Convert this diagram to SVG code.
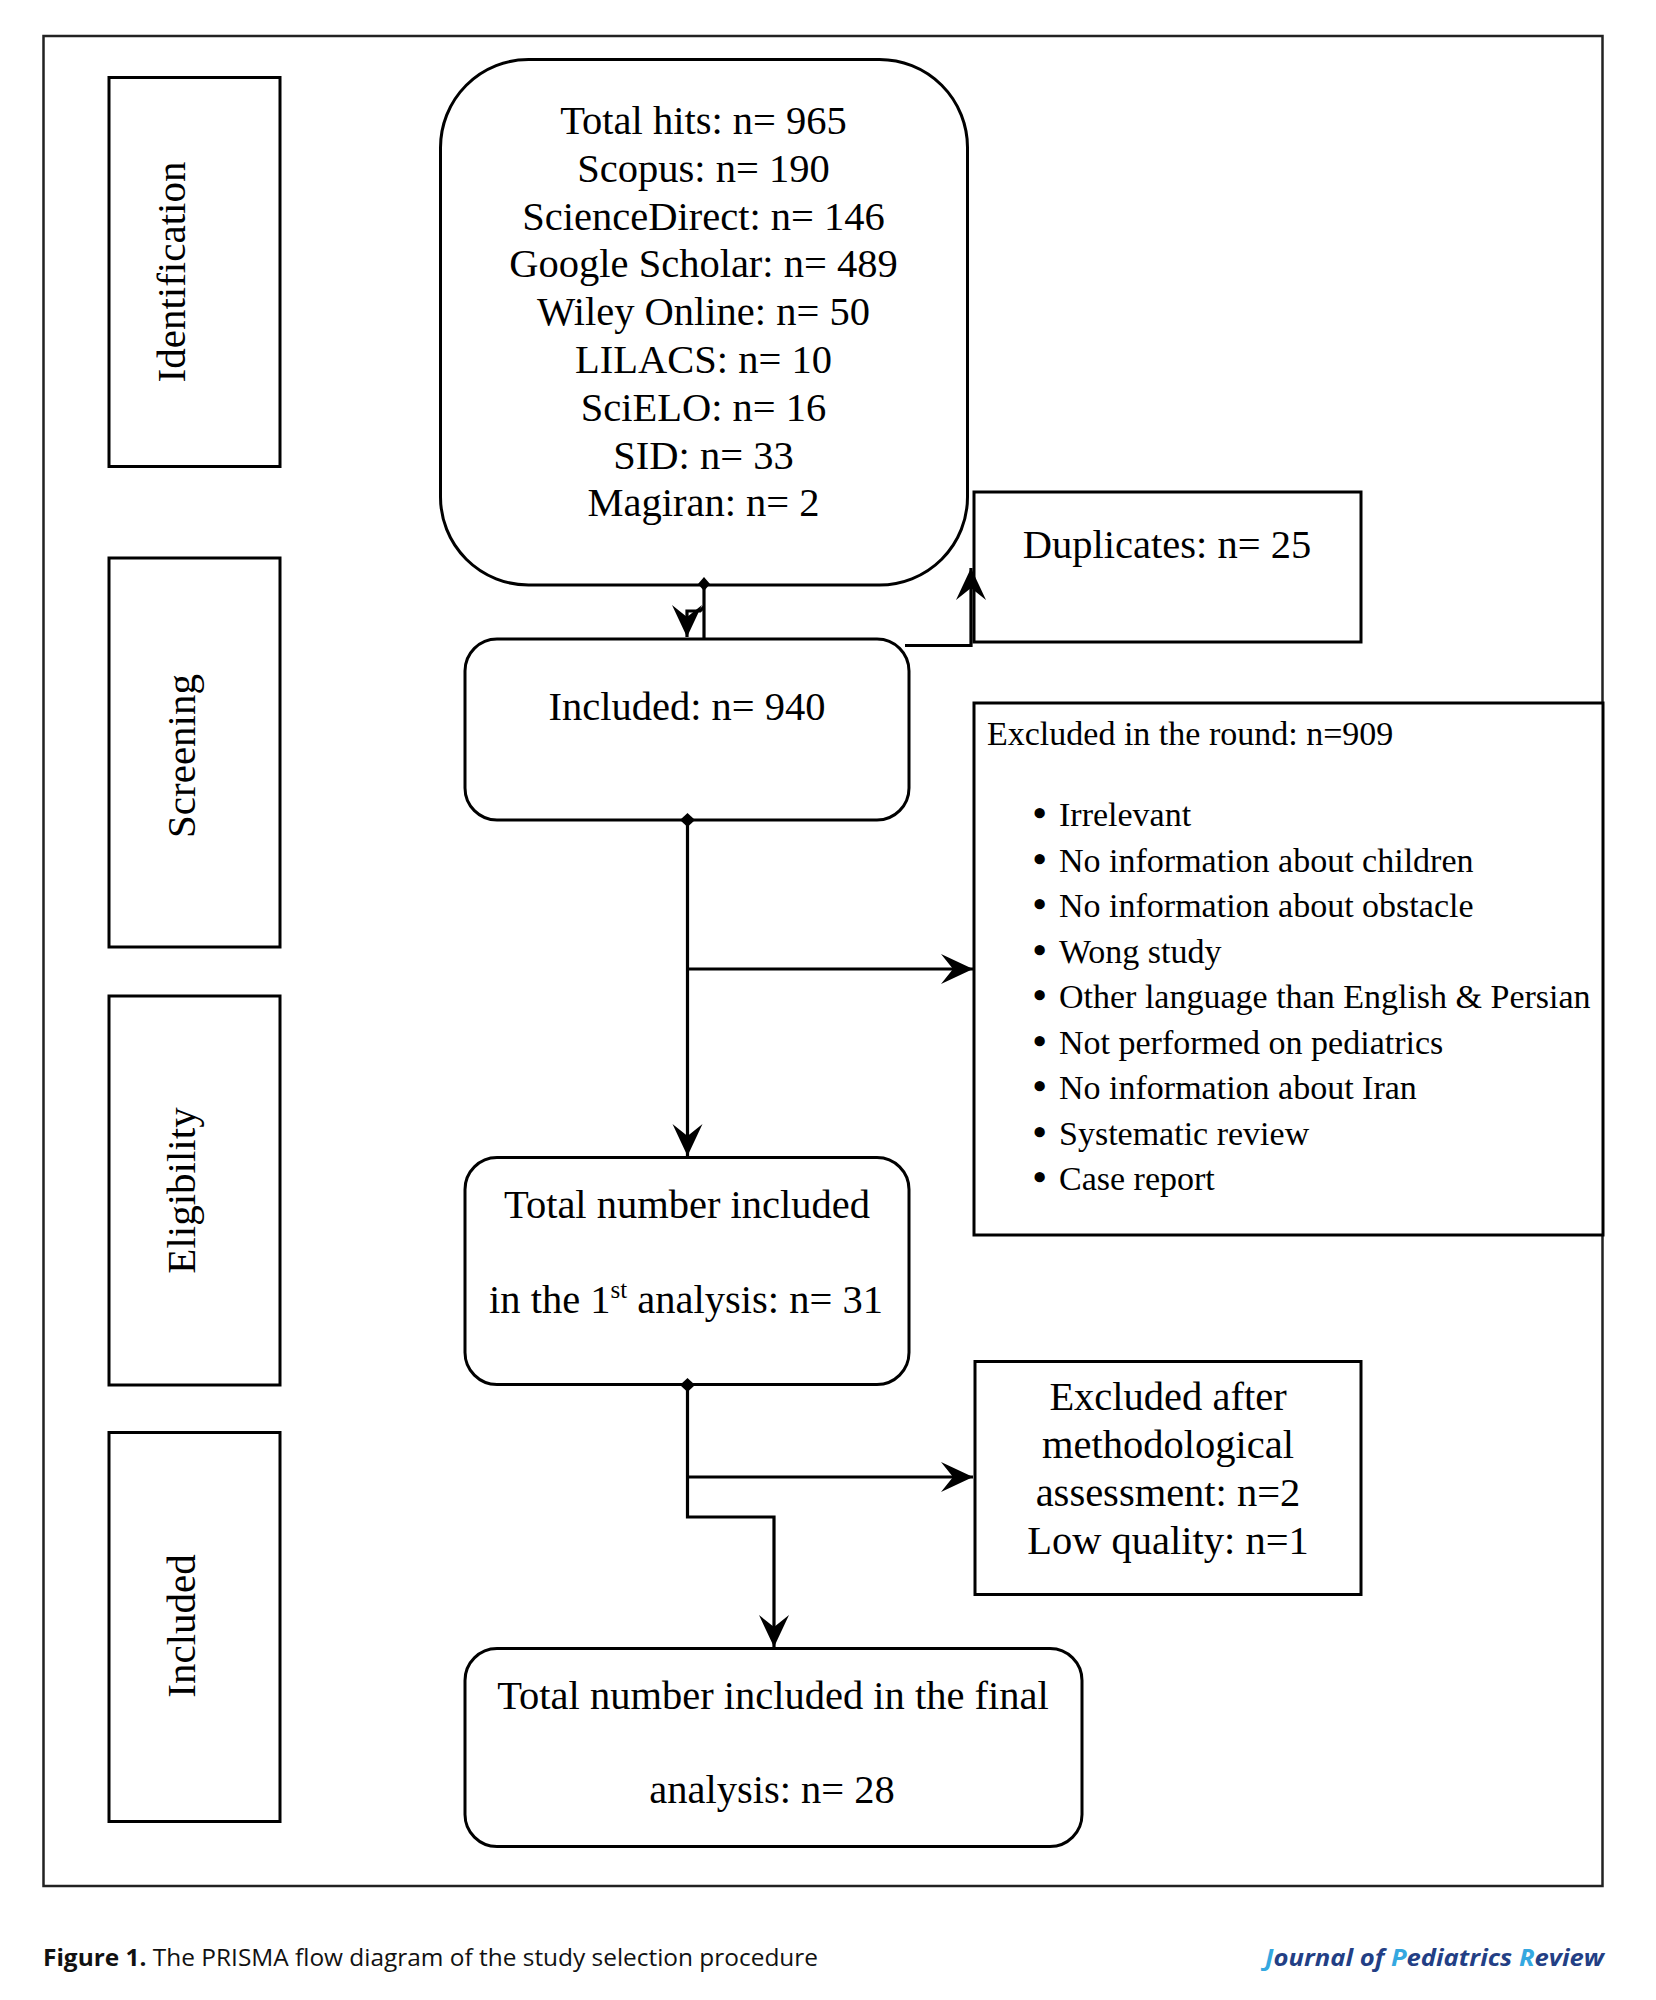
<svg xmlns="http://www.w3.org/2000/svg" width="1656" height="2000" viewBox="0 0 1656 2000">
<style>
.box{fill:#fff;stroke:#000;stroke-width:3}
.frame{fill:none;stroke:#222;stroke-width:2.5}
.t{font-family:"Liberation Serif","Times New Roman",serif;font-size:40.5px;fill:#000}
.side{font-family:"Liberation Serif","Times New Roman",serif;font-size:41px;fill:#000;text-anchor:middle}
.s{font-family:"Liberation Serif","Times New Roman",serif;font-size:34px;fill:#000}
.bu{font-size:38px;font-weight:bold}
.c{text-anchor:middle}
.ln{fill:none;stroke:#000;stroke-width:3.2}
.cap{font-family:"Open Sans","Noto Sans",sans-serif;font-size:24px;fill:#111}
.jr{font-family:"Open Sans","Noto Sans",sans-serif;font-size:24px;font-weight:bold;font-style:italic;fill:#233f85}
</style>
<defs>
<marker id="ah" markerUnits="userSpaceOnUse" viewBox="-34 -18 36 36" refX="0" refY="0" markerWidth="36" markerHeight="36" orient="auto">
<path d="M0,0 L-32,-15 L-20,0 L-32,15 Z" fill="#000"/>
</marker>
</defs>
<rect width="1656" height="2000" fill="#fff"/>
<rect class="frame" x="43.5" y="36" width="1559" height="1850"/>

<g id="stage-identification">
<rect class="box" x="109" y="77.5" width="171" height="389"/>
<text class="side" transform="translate(185,272) rotate(-90)">Identification</text>
</g>
<g id="stage-screening">
<rect class="box" x="109" y="558" width="171" height="389"/>
<text class="side" transform="translate(195,756) rotate(-90)">Screening</text>
</g>
<g id="stage-eligibility">
<rect class="box" x="109" y="996" width="171" height="389"/>
<text class="side" transform="translate(195,1190.5) rotate(-90)">Eligibility</text>
</g>
<g id="stage-included">
<rect class="box" x="109" y="1432.5" width="171" height="389"/>
<text class="side" transform="translate(195,1626) rotate(-90)">Included</text>
</g>

<g id="node-total-hits">
<rect class="box" x="440.5" y="59.5" width="527" height="525.5" rx="88" ry="88"/>
<text class="t c" x="703.5" y="134">Total hits: n= 965</text>
<text class="t c" x="703.5" y="181.8">Scopus: n= 190</text>
<text class="t c" x="703.5" y="229.6">ScienceDirect: n= 146</text>
<text class="t c" x="703.5" y="277.4">Google Scholar: n= 489</text>
<text class="t c" x="703.5" y="325.2">Wiley Online: n= 50</text>
<text class="t c" x="703.5" y="373">LILACS: n= 10</text>
<text class="t c" x="703.5" y="420.8">SciELO: n= 16</text>
<text class="t c" x="703.5" y="468.6">SID: n= 33</text>
<text class="t c" x="703.5" y="516.4">Magiran: n= 2</text>
</g>

<g id="node-duplicates">
<rect class="box" x="974" y="492" width="387" height="150"/>
<text class="t c" x="1167" y="558">Duplicates: n= 25</text>
</g>

<g id="node-included-940">
<rect class="box" x="465" y="639" width="444" height="181" rx="32" ry="32"/>
<text class="t c" x="687" y="720">Included: n= 940</text>
</g>

<g id="node-excluded-round">
<rect class="box" x="974" y="703" width="629" height="532"/>
<text class="s" x="987" y="745">Excluded in the round: n=909</text>
<g class="s">
<text x="1033" y="826"><tspan class="bu">•</tspan><tspan x="1059">Irrelevant</tspan></text>
<text x="1033" y="871.5"><tspan class="bu">•</tspan><tspan x="1059">No information about children</tspan></text>
<text x="1033" y="917"><tspan class="bu">•</tspan><tspan x="1059">No information about obstacle</tspan></text>
<text x="1033" y="962.5"><tspan class="bu">•</tspan><tspan x="1059">Wong study</tspan></text>
<text x="1033" y="1008"><tspan class="bu">•</tspan><tspan x="1059">Other language than English &amp; Persian</tspan></text>
<text x="1033" y="1053.5"><tspan class="bu">•</tspan><tspan x="1059">Not performed on pediatrics</tspan></text>
<text x="1033" y="1099"><tspan class="bu">•</tspan><tspan x="1059">No information about Iran</tspan></text>
<text x="1033" y="1144.5"><tspan class="bu">•</tspan><tspan x="1059">Systematic review</tspan></text>
<text x="1033" y="1190"><tspan class="bu">•</tspan><tspan x="1059">Case report</tspan></text>
</g>
</g>

<g id="node-first-analysis">
<rect class="box" x="465" y="1157.5" width="444" height="227" rx="32" ry="32"/>
<text class="t c" x="687" y="1218">Total number included</text>
<text class="t c" x="686" y="1313">in the 1<tspan font-size="25" dy="-15">st</tspan><tspan dy="15"> analysis: n= 31</tspan></text>
</g>

<g id="node-excluded-after">
<rect class="box" x="975" y="1361.5" width="386" height="233"/>
<text class="t c" x="1168" y="1410">Excluded after</text>
<text class="t c" x="1168" y="1458">methodological</text>
<text class="t c" x="1168" y="1506">assessment: n=2</text>
<text class="t c" x="1168" y="1554">Low quality: n=1</text>
</g>

<g id="node-final">
<rect class="box" x="465" y="1648.5" width="617" height="198" rx="32" ry="32"/>
<text class="t c" x="773" y="1708.5">Total number included in the final</text>
<text class="t c" x="772" y="1803">analysis: n= 28</text>
</g>

<g id="connectors">
<path class="ln" d="M704,584 V639"/>
<path class="ln" d="M704,607 L700,611 H687 V637" marker-end="url(#ah)"/>
<path d="M704,577 L710,584 L704,591 L698,584 Z" fill="#000"/>
<path class="ln" d="M905,645.5 H971 V568" marker-end="url(#ah)"/>
<path class="ln" d="M687.5,820 V1156" marker-end="url(#ah)"/>
<path class="ln" d="M687.5,969 H973" marker-end="url(#ah)"/>
<path d="M687.5,813 L695,820 L687.5,827 L680,820 Z" fill="#000"/>
<path class="ln" d="M687.5,1385 V1517 H774 V1647" marker-end="url(#ah)"/>
<path class="ln" d="M687.5,1477 H973" marker-end="url(#ah)"/>
<path d="M687.5,1378 L695,1385 L687.5,1392 L680,1385 Z" fill="#000"/>
</g>

<text class="cap" x="43" y="1966" textLength="775" lengthAdjust="spacingAndGlyphs"><tspan font-weight="bold">Figure 1.</tspan> The PRISMA flow diagram of the study selection procedure</text>
<text class="jr" x="1265" y="1966" textLength="339" lengthAdjust="spacingAndGlyphs"><tspan fill="#35a8e0">J</tspan>ournal of <tspan fill="#35a8e0">P</tspan>ediatrics <tspan fill="#35a8e0">R</tspan>eview</text>
</svg>
